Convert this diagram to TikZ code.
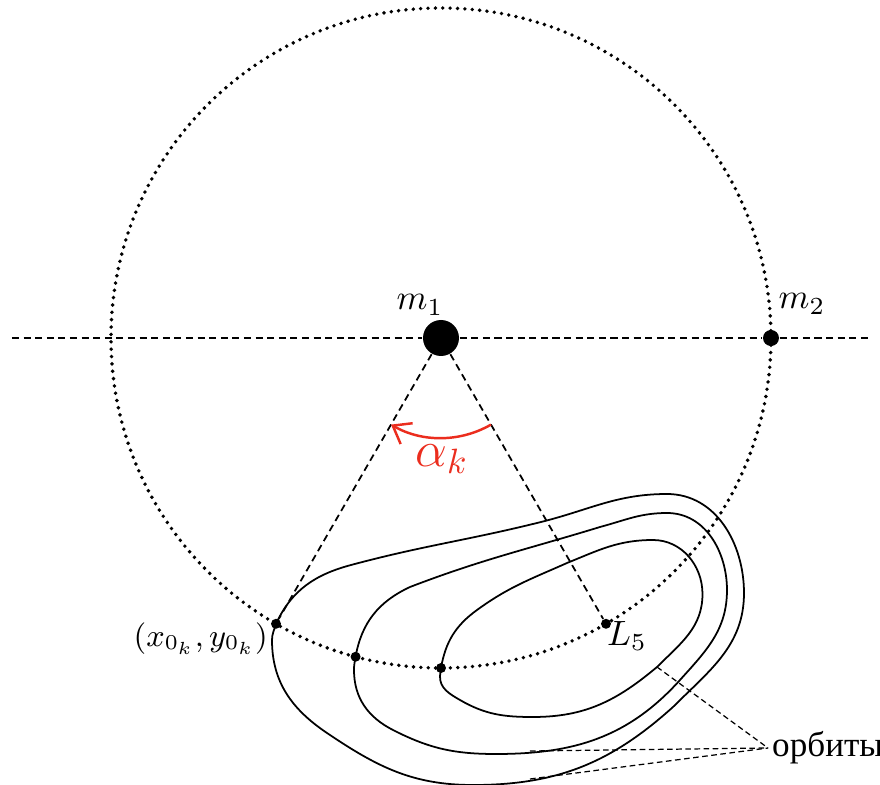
\documentclass[tikz,border=0pt]{standalone}
\usepackage{fontspec}
\newfontfamily\cyrfont{Liberation Serif}
\usepackage{tikz}
\usetikzlibrary{arrows.meta, positioning, calc}
\definecolor{arcRed}{RGB}{235, 45, 30}

\begin{document}
\begin{tikzpicture}[
    massdot/.style={circle, fill=black, inner sep=0pt},
    ptdot/.style={circle, fill=black, inner sep=0pt, minimum size=0.1cm},
    axisline/.style={dash pattern=on 2pt off 1.3pt, line width=0.5pt},
    orbitpath/.style={line width=0.5pt},
    leader/.style={dash pattern=on 1.6pt off 1pt, line width=0.35pt},
    ring/.style={line width=1.1pt, line cap=round, dash pattern=on 0pt off 2.1pt}
]
    \useasboundingbox (-4.41,-4.47) rectangle (4.39,3.38);

    % Circle of m2 around m1
    \draw[ring] (0,0) circle (3.3);

    % Masses and points on the circle
    \node[massdot, minimum size=0.36cm] (m1) at (0,0) {};
    \node[massdot, minimum size=0.16cm] (m2) at (3.3,0) {};
    \node[ptdot] (x0) at (-120:3.3) {};
    \node[ptdot] (p2) at (-105:3.3) {};
    \node[ptdot] (p3) at (-90:3.3) {};
    \node[ptdot] (L5) at (-60:3.3) {};
    \coordinate (axisL) at (-4.29,0);
    \coordinate (axisR) at (4.29,0);

    % Axis and rays
    \draw[axisline] (axisL) -- (m1) -- (m2) -- (axisR);
    \draw[axisline] (m1) -- (x0);
    \draw[axisline] (m1) -- (L5);

    % Angle alpha_k
    \draw[arcRed, line width=0.7pt, -{Straight Barb[length=1.6mm, width=2.4mm]}]
        ($(m1)+(-60:1.0)$) arc[start angle=-60, end angle=-120, radius=1.0];
    \node[text=arcRed, font=\Large] (alpha) at (0.01,-1.21) {$\alpha_k$};

    % Labels
    \node (m1label) at (-0.21,0.33) {$m_1$};
    \node (m2label) at (3.61,0.34) {$m_2$};
    \node (L5label) at (1.86,-2.98) {$L_5$};
    \node[left=-0.1cm of x0, yshift=-0.15cm, font=\small] (x0label) {$(x_{0_k},y_{0_k})$};

    % Orbits (outer, middle, inner)
    \draw[orbitpath] (x0.center) to[out=65,in=195] (-0.90,-2.27)
        to[out=15,in=194] (1.0,-1.84) to[out=14,in=180] (2.26,-1.56)
        to[out=0,in=90] (3.03,-2.55) to[out=-90,in=45] (2.32,-3.69)
        to[out=-138,in=0] (0.32,-4.47) to[out=180,in=-34] (-1.14,-3.95)
        to[out=146,in=-90] (-1.69,-3.02) to[out=90,in=-105] cycle;
    \draw[orbitpath] (p2.center) to[out=80,in=205] (-0.31,-2.49)
        to[out=21,in=197] (1.59,-1.89) to[out=15,in=180] (2.26,-1.75)
        to[out=0,in=90] (2.86,-2.52) to[out=-90,in=48] (2.39,-3.42)
        to[out=-132,in=0] (0.55,-4.16) to[out=180,in=-27] (-0.48,-3.92)
        to[out=153,in=-90] (-0.87,-3.32) to[out=90,in=-100] cycle;
    \draw[orbitpath] (p3.center) to[out=80,in=216] (0.36,-2.72)
        to[out=36,in=204] (1.26,-2.25) to[out=22,in=180] (2.12,-2.02)
        to[out=0,in=90] (2.615,-2.56) to[out=-90,in=45] (2.16,-3.29)
        to[out=-140,in=0] (0.92,-3.79) to[out=180,in=-30] (0.19,-3.62)
        to[out=150,in=-92] (-0.01,-3.38) to[out=88,in=-100] cycle;

    % Orbit label and leaders
    \coordinate (orbA) at (2.16,-3.29);
    \coordinate (orbB) at (0.89,-4.13);
    \coordinate (orbC) at (0.89,-4.41);
    \node[font=\cyrfont, anchor=west, inner sep=1pt] (orbits) at (3.27,-4.10) {орбиты};
    \draw[leader] (orbA) -- (orbits.west);
    \draw[leader] (orbB) -- (orbits.west);
    \draw[leader] (orbC) -- (orbits.west);
\end{tikzpicture}
\end{document}
